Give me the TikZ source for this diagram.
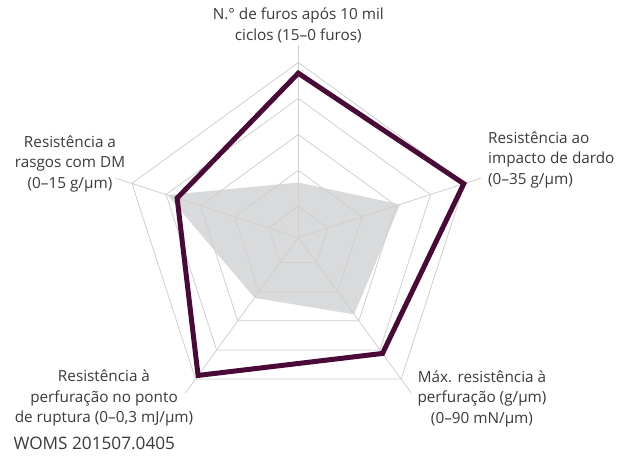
\documentclass[tikz,border=0pt]{standalone}
\usepackage{fontspec}
\setmainfont{Open Sans}
\usetikzlibrary{calc}
\definecolor{gridc}{HTML}{CFCFCF}
\definecolor{fillc}{HTML}{D9DADC}
\definecolor{plum}{HTML}{4A0A38}
\definecolor{txt}{HTML}{3A3A3A}
\begin{document}
\begin{tikzpicture}[x=1pt,y=1pt,
  gridline/.style={draw=gridc, line width=0.8pt},
  dataline/.style={draw=plum, line width=5pt, line join=miter},
  datafill/.style={fill=fillc},
  lbl/.style={font=\fontsize{15.3}{20.5}\selectfont, text=txt, inner sep=0pt, align=center}]
\useasboundingbox (0,0) rectangle (622,-457);
\coordinate (O) at (298.3,-237.5);
\begin{scope}[shift={(O)}]
  \fill[datafill] (90:55) -- (18:107) -- (-54:95) -- (-126:74.6) -- (162:137.5) -- cycle;
  \foreach \r in {31,67,103,139,175}
    \draw[gridline] (90:\r) -- (18:\r) -- (-54:\r) -- (-126:\r) -- (162:\r) -- cycle;
  \foreach \a/\n in {90/A,18/B,-54/C,-126/D,162/E}
    \coordinate (ax\n) at (\a:192);
\end{scope}
\foreach \n in {A,B,C,D,E}
  \draw[gridline] (O) -- (ax\n);
\begin{scope}[shift={(O)}]
  \draw[dataline] (90:164.3) -- (18:174) -- (-54:143.3) -- (-126:170.5) -- (162:127.4) -- cycle;
\end{scope}
\node[lbl, anchor=north] (lA) at (298.3,-8) {N.° de furos após 10 mil\\ciclos (15–0 furos)};
\node[lbl, anchor=north west, align=left] (lB) at (488,-131.5) {Resistência ao\\impacto de dardo\\(0–35 g/µm)};
\node[lbl, anchor=north] (lC) at (482,-370.5) {Máx. resistência à\\perfuração (g/µm)\\(0–90 mN/µm)};
\node[lbl, anchor=north] (lD) at (104,-370) {Resistência à\\perfuração no ponto\\de ruptura (0–0,3 mJ/µm)};
\node[lbl, anchor=north] (lE) at (70,-135.5) {Resistência a\\rasgos com DM\\(0–15 g/µm)};
\node[lbl, anchor=base west, font=\fontsize{17.2}{20}\selectfont] (src) at (13.3,-449.3) {WOMS 201507.0405};
\end{tikzpicture}
\end{document}
